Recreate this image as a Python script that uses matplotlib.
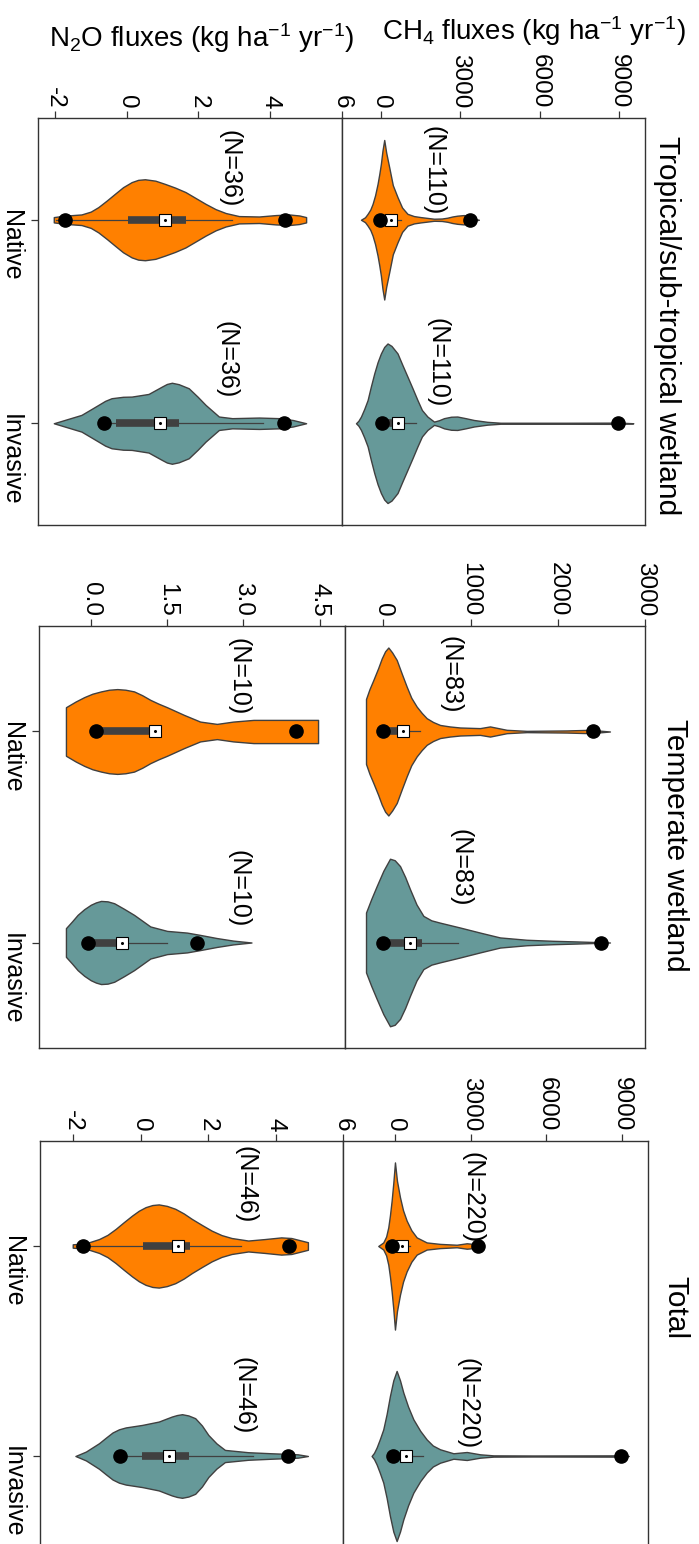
import matplotlib
matplotlib.use('Agg')
import matplotlib.pyplot as plt
import numpy as np

plt.rcParams['font.family'] = ['Liberation Sans', 'DejaVu Sans']
plt.rcParams['mathtext.fontset'] = 'custom'
plt.rcParams['mathtext.rm'] = 'Liberation Sans'
plt.rcParams['mathtext.it'] = 'Liberation Sans:italic'
plt.rcParams['mathtext.bf'] = 'Liberation Sans:bold'

# ---------------- data ----------------
regions = ["Tropical/sub-tropical wetland", "Temperate wetland", "Total"]
groups = ["Native", "Invasive"]
n_counts_ch4 = [110, 83, 220]
n_counts_n2o = [36, 10, 46]

ch4_ticks = [[0, 3000, 6000, 9000], [0, 1000, 2000, 3000], [0, 3000, 6000, 9000]]
n2o_ticks = [[-2, 0, 2, 4, 6], [0.0, 1.5, 3.0, 4.5], [-2, 0, 2, 4, 6]]
n2o_ticklabels = [["-2", "0", "2", "4", "6"], ["0.0", "1.5", "3.0", "4.5"], ["-2", "0", "2", "4", "6"]]
ch4_xlim = [(-1470, 9980), (-440, 3000), (-2060, 10030)]
n2o_xlim = [(-2.47, 6.0), (-1.02, 5.0), (-2.98, 6.0)]

# violin outlines: flux values and half-widths (category units)
trop_ch4_nat_x = [-753, -600, -502, -400, -314, -220, -126, -60, 0, 60, 126, 200, 314, 450, 628, 800, 1004,
                  1250, 1506, 2008, 2300, 2510, 2700, 2887, 3138, 3389, 3550, 3702]
trop_ch4_nat_w = [0, 0.012, 0.029, 0.05, 0.078, 0.12, 0.176, 0.225, 0.275, 0.34, 0.392, 0.33, 0.258, 0.17, 0.111,
                  0.06, 0.029, 0.018, 0.013, 0.005, 0.006, 0.010, 0.016, 0.020, 0.023, 0.008, 0.004, 0]
trop_ch4_inv_x = [-941, -850, -753, -630, -502, -380, -251, -125, 0, 125, 251, 400, 628, 800, 1004, 1200, 1381,
                  1550, 1757, 2008, 2200, 2385, 2650, 2887, 3200, 3514, 4016, 4518, 7028, 8785, 9036, 9538]
trop_ch4_inv_w = [0, 0.012, 0.033, 0.07, 0.114, 0.18, 0.245, 0.30, 0.343, 0.375, 0.392, 0.38, 0.343, 0.29, 0.229,
                  0.17, 0.114, 0.065, 0.033, 0.008, 0.015, 0.025, 0.032, 0.033, 0.025, 0.016, 0.007, 0.0025,
                  0.0025, 0.003, 0.003, 0]
trop_n2o_nat_x = [-2.03, -1.73, -1.26, -1.0, -0.79, -0.55, -0.33, -0.1, 0.14, 0.32, 0.51, 0.8, 1.07, 1.35, 1.64,
                  1.92, 2.20, 2.48, 2.76, 3.13, 3.69, 4.16, 4.53, 4.81, 5.00]
trop_n2o_nat_w = [0.013, 0.020, 0.026, 0.04, 0.062, 0.095, 0.127, 0.16, 0.185, 0.196, 0.199, 0.192, 0.176, 0.158,
                  0.136, 0.107, 0.078, 0.052, 0.033, 0.018, 0.016, 0.023, 0.026, 0.021, 0.013]
trop_n2o_inv_x = [-2.03, -1.73, -1.26, -1.0, -0.79, -0.6, -0.42, -0.1, 0.14, 0.61, 0.98, 1.12, 1.26, 1.45, 1.73,
                  1.98, 2.20, 2.57, 2.94, 3.69, 4.25, 4.63, 5.00]
trop_n2o_inv_w = [0, 0.016, 0.041, 0.068, 0.090, 0.11, 0.123, 0.130, 0.131, 0.144, 0.180, 0.193, 0.199, 0.192,
                  0.172, 0.13, 0.090, 0.033, 0.025, 0.028, 0.025, 0.016, 0]

temp_ch4_nat_x = [-199, -160, -115, -60, -19, 20, 57, 100, 153, 210, 267, 320, 382, 440, 497, 570, 650, 760, 879,
                  1108, 1223, 1414, 1643, 2102, 2369, 2598]
temp_ch4_nat_w = [0.154, 0.20, 0.244, 0.30, 0.346, 0.38, 0.398, 0.375, 0.339, 0.275, 0.213, 0.16, 0.118, 0.088,
                  0.063, 0.045, 0.031, 0.024, 0.019, 0.016, 0.024, 0.008, 0.003, 0.005, 0.008, 0]
temp_ch4_inv_x = [-199, -140, -76, 0, 76, 130, 191, 250, 306, 380, 459, 550, 650, 879, 1108, 1337, 1643, 1949,
                  2216, 2598]
temp_ch4_inv_w = [0.142, 0.205, 0.268, 0.34, 0.397, 0.39, 0.362, 0.31, 0.252, 0.18, 0.126, 0.105, 0.094, 0.071,
                  0.047, 0.024, 0.013, 0.008, 0.005, 0]
temp_n2o_nat_x = [-0.49, -0.30, -0.13, 0.03, 0.20, 0.36, 0.52, 0.68, 0.85, 1.01, 1.17, 1.33, 1.50, 1.83, 2.15,
                  2.48, 2.80, 3.20, 3.78, 4.47]
temp_n2o_nat_w = [0.115, 0.142, 0.163, 0.179, 0.190, 0.198, 0.201, 0.198, 0.190, 0.172, 0.150, 0.132, 0.115,
                  0.079, 0.047, 0.036, 0.047, 0.055, 0.055, 0.055]
temp_n2o_inv_x = [-0.49, -0.37, -0.26, -0.13, 0.0, 0.10, 0.20, 0.33, 0.46, 0.65, 0.85, 1.17, 1.50, 1.89, 2.15,
                  2.48, 2.80, 3.16]
temp_n2o_inv_w = [0.068, 0.10, 0.131, 0.158, 0.179, 0.19, 0.197, 0.195, 0.186, 0.16, 0.131, 0.076, 0.055, 0.047,
                  0.036, 0.021, 0.009, 0]

tot_ch4_nat_x = [-662, -463, -350, -265, -200, -132, -66, 0, 80, 199, 320, 463, 650, 860, 1257, 1787, 2448, 2846,
                 3110, 3375]
tot_ch4_nat_w = [0, 0.017, 0.045, 0.089, 0.145, 0.216, 0.30, 0.398, 0.31, 0.232, 0.17, 0.121, 0.075, 0.041, 0.017,
                 0.010, 0.006, 0.013, 0.010, 0]
tot_ch4_inv_x = [-926, -830, -728, -600, -463, -330, -199, -66, 66, 200, 331, 520, 728, 1000, 1257, 1500, 1787,
                 2316, 2846, 3375, 3904, 5492, 8668, 9264]
tot_ch4_inv_w = [0, 0.015, 0.040, 0.08, 0.127, 0.2, 0.286, 0.36, 0.405, 0.36, 0.302, 0.235, 0.175, 0.12, 0.079,
                 0.05, 0.032, 0.013, 0.019, 0.008, 0.003, 0.0024, 0.003, 0]
tot_n2o_nat_x = [-2.01, -1.62, -1.23, -0.98, -0.74, -0.5, -0.25, -0.05, 0.15, 0.35, 0.54, 0.78, 1.03, 1.28, 1.52,
                 1.82, 2.11, 2.40, 2.70, 3.19, 3.68, 4.17, 4.47, 4.96]
tot_n2o_nat_w = [0.008, 0.013, 0.033, 0.053, 0.081, 0.113, 0.145, 0.168, 0.185, 0.195, 0.198, 0.191, 0.177, 0.155,
                 0.129, 0.10, 0.073, 0.052, 0.038, 0.026, 0.033, 0.041, 0.038, 0.018]
tot_n2o_inv_x = [-1.93, -1.62, -1.23, -1.03, -0.83, -0.64, -0.44, 0.05, 0.54, 0.75, 0.93, 1.08, 1.23, 1.42, 1.62,
                 1.82, 2.01, 2.25, 2.50, 3.19, 3.88, 4.37, 4.66, 4.96]
tot_n2o_inv_w = [0, 0.021, 0.061, 0.087, 0.112, 0.127, 0.136, 0.148, 0.164, 0.177, 0.188, 0.195, 0.199, 0.193,
                 0.180, 0.145, 0.100, 0.06, 0.029, 0.018, 0.013, 0.010, 0.008, 0]

# box summaries: [q1, q3, whisker_low, whisker_high, centre (square), dot_low, dot_high]
trop_ch4_box_nat = [-50, 550, -200, 760, 400, -25, 3360]
trop_ch4_box_inv = [-50, 700, -200, 1320, 630, 38, 8970]
trop_n2o_box_nat = [0.05, 1.65, -1.96, 2.94, 1.06, -1.73, 4.42]
trop_n2o_box_inv = [-0.31, 1.45, -0.63, 3.79, 0.93, -0.63, 4.39]
temp_ch4_box_nat = [0, 190, 0, 420, 222, 0, 2400]
temp_ch4_box_inv = [0, 440, 0, 850, 306, 0, 2500]
temp_n2o_box_nat = [0.10, 1.27, 0.10, 1.27, 1.27, 0.10, 4.04]
temp_n2o_box_inv = [-0.05, 0.55, -0.05, 1.50, 0.61, -0.05, 2.09]
tot_ch4_box_nat = [-100, 450, -150, 600, 290, -120, 3310]
tot_ch4_box_inv = [-66, 500, -100, 1125, 437, -66, 8960]
tot_n2o_box_nat = [0.07, 1.47, -1.91, 2.97, 1.10, -1.72, 4.40]
tot_n2o_box_inv = [0.03, 1.45, -0.39, 3.34, 0.85, -0.62, 4.37]

# N-label positions (flux value, category coordinate)
ch4_nlab_pos = [[(1995, 0.76), (2145, 1.70)], [(770, 0.73), (885, 1.645)], [(3090, 0.77), (2890, 1.75)]]
n2o_nlab_pos = [[(2.86, 0.747), (2.77, 1.686)], [(2.9, 0.742), (2.9, 1.744)], [(3.1, 0.708), (3.05, 1.713)]]

colors = ["#FF8000", "#669999"]

ch4_violins = [
    [(trop_ch4_nat_x, trop_ch4_nat_w), (trop_ch4_inv_x, trop_ch4_inv_w)],
    [(temp_ch4_nat_x, temp_ch4_nat_w), (temp_ch4_inv_x, temp_ch4_inv_w)],
    [(tot_ch4_nat_x, tot_ch4_nat_w), (tot_ch4_inv_x, tot_ch4_inv_w)],
]
n2o_violins = [
    [(trop_n2o_nat_x, trop_n2o_nat_w), (trop_n2o_inv_x, trop_n2o_inv_w)],
    [(temp_n2o_nat_x, temp_n2o_nat_w), (temp_n2o_inv_x, temp_n2o_inv_w)],
    [(tot_n2o_nat_x, tot_n2o_nat_w), (tot_n2o_inv_x, tot_n2o_inv_w)],
]
ch4_boxes = [[trop_ch4_box_nat, trop_ch4_box_inv], [temp_ch4_box_nat, temp_ch4_box_inv], [tot_ch4_box_nat, tot_ch4_box_inv]]
n2o_boxes = [[trop_n2o_box_nat, trop_n2o_box_inv], [temp_n2o_box_nat, temp_n2o_box_inv], [tot_n2o_box_nat, tot_n2o_box_inv]]

# ---------------- layout (pixel boxes) ----------------
W, H = 699, 1544
fig = plt.figure(figsize=(W / 100, H / 100), dpi=100)

band_y = [(118, 525), (626, 1048), (1141, 1561)]
n2o_x = [(38, 342), (39, 345), (40, 343)]
ch4_x = [(342, 645), (345, 645), (343, 648)]
title_pos = [(667, 326), (675, 845), (675, 1308)]

EDGE = "#333333"


def px_axes(x0, y0, x1, y1):
    return fig.add_axes([x0 / W, 1 - y1 / H, (x1 - x0) / W, (y1 - y0) / H])


def style(ax):
    for s in ax.spines.values():
        s.set_color(EDGE)
        s.set_linewidth(1.0)
    ax.xaxis.tick_top()
    ax.tick_params(axis='x', direction='out', length=5, width=0.9, color=EDGE,
                   labelsize=17.5, labelrotation=-90, pad=2)
    ax.set_ylim(2.5, 0.5)


def draw_group(ax, pos, outline, box, color):
    xs = np.asarray(outline[0], dtype=float)
    ws = np.asarray(outline[1], dtype=float)
    ax.fill_between(xs, pos - ws, pos + ws, facecolor=color, edgecolor='#404040',
                    linewidth=1.0, zorder=2)
    q1, q3, wlo, whi, cen, dlo, dhi = box
    ax.plot([wlo, whi], [pos, pos], color='#404040', lw=0.9, zorder=3)
    ax.plot([q1, q3], [pos, pos], color='#404040', lw=5.5, solid_capstyle='butt', zorder=3)
    ax.plot([cen], [pos], marker='s', ms=8.5, mfc='white', mec='black', mew=0.8,
            linestyle='none', zorder=4)
    ax.plot([cen], [pos], marker='o', ms=1.2, color='black', linestyle='none', zorder=5)
    ax.plot([dlo, dhi], [pos, pos], marker='o', ms=9.5, color='black', linestyle='none', zorder=6)


for r in range(3):
    y0, y1 = band_y[r]
    # N2O panel (left)
    axn = px_axes(n2o_x[r][0], y0, n2o_x[r][1], y1)
    style(axn)
    axn.set_xlim(*n2o_xlim[r])
    axn.set_xticks(n2o_ticks[r])
    axn.set_xticklabels(n2o_ticklabels[r])
    axn.set_yticks([1, 2])
    axn.set_yticklabels(groups, rotation=-90, fontsize=18)
    axn.tick_params(axis='y', direction='out', length=5, width=0.9, color=EDGE, pad=6)
    for g in range(2):
        draw_group(axn, g + 1, n2o_violins[r][g], n2o_boxes[r][g], colors[g])
        vx, vy = n2o_nlab_pos[r][g]
        axn.text(vx, vy, "(N=%d)" % n_counts_n2o[r], rotation=-90, ha='center', va='center',
                 fontsize=18, zorder=7)

    # CH4 panel (right)
    axc = px_axes(ch4_x[r][0], y0, ch4_x[r][1], y1)
    style(axc)
    axc.set_xlim(*ch4_xlim[r])
    axc.set_xticks(ch4_ticks[r])
    axc.set_xticklabels([str(t) for t in ch4_ticks[r]])
    axc.set_yticks([])
    for g in range(2):
        draw_group(axc, g + 1, ch4_violins[r][g], ch4_boxes[r][g], colors[g])
        vx, vy = ch4_nlab_pos[r][g]
        axc.text(vx, vy, "(N=%d)" % n_counts_ch4[r], rotation=-90, ha='center', va='center',
                 fontsize=18, zorder=7)

    tx, ty = title_pos[r]
    fig.text(tx / W, 1 - ty / H, regions[r], rotation=-90, ha='center', va='center',
             fontsize=21.5)

fig.text(202 / W, 1 - 38 / H, r"N$_2$O fluxes (kg ha$^{-1}$ yr$^{-1}$)", ha='center', va='center',
         fontsize=20)
fig.text(534 / W, 1 - 31 / H, r"CH$_4$ fluxes (kg ha$^{-1}$ yr$^{-1}$)", ha='center', va='center',
         fontsize=20)

fig.savefig("out.png", dpi=100, facecolor='white')
